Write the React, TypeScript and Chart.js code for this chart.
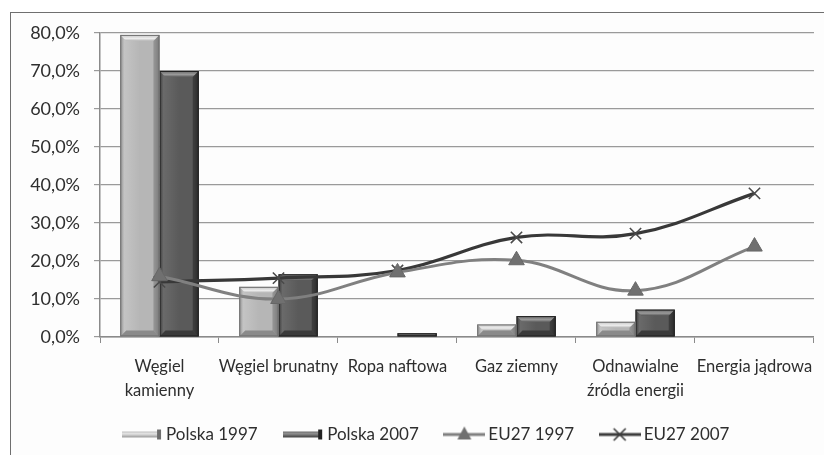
import React, { useEffect, useRef } from "react";
import { Chart, registerables } from "chart.js";

Chart.register(...registerables);

const categories: (string | string[])[] = [
  ["Węgiel", "kamienny"],
  "Węgiel brunatny",
  "Ropa naftowa",
  "Gaz ziemny",
  ["Odnawialne", "źródla energii"],
  "Energia jądrowa",
];
const polska1997 = [79.5, 13.2, 0, 3.3, 4.0, 0];
const polska2007 = [70.0, 16.5, 1.0, 5.5, 7.2, 0];
const eu1997 = [16.0, 10.0, 17.0, 20.2, 12.2, 23.8];
const eu2007 = [14.5, 15.5, 17.5, 26.2, 27.2, 37.8];
const seriesNames = ["Polska 1997", "Polska 2007", "EU27 1997", "EU27 2007"];
const yMax = 80;
const yStep = 10;

const FONT = "Lato";
const TEXT = "#2e2e2e";

type Pal = { edgeL: string; light: string; mid: string; edgeR: string; hi: string; lo: string; border: string };
const palLight: Pal = { edgeL: "#8c8c8c", light: "#c4c4c4", mid: "#b6b6b6", edgeR: "#7a7a7a", hi: "#ececec", lo: "#8a8a8a", border: "#6e6e6e" };
const palDark: Pal = { edgeL: "#3a3a3a", light: "#6a6a6a", mid: "#5a5a5a", edgeR: "#2a2a2a", hi: "#9a9a9a", lo: "#3a3a3a", border: "#222222" };

function drawBar3D(ctx: CanvasRenderingContext2D, left: number, right: number, top: number, bottom: number, pal: Pal) {
  const w = right - left;
  const h = bottom - top;
  if (h < 0.5 || w <= 0) return;
  ctx.save();
  const g = ctx.createLinearGradient(left, 0, right, 0);
  g.addColorStop(0, pal.edgeL);
  g.addColorStop(0.1, pal.light);
  g.addColorStop(0.5, pal.mid);
  g.addColorStop(0.88, pal.mid);
  g.addColorStop(1, pal.edgeR);
  ctx.fillStyle = g;
  ctx.fillRect(left, top, w, h);
  const b = Math.min(6, h / 2);
  ctx.beginPath();
  ctx.moveTo(left, top);
  ctx.lineTo(right, top);
  ctx.lineTo(right - b, top + b);
  ctx.lineTo(left + b, top + b);
  ctx.closePath();
  const tg = ctx.createLinearGradient(0, top, 0, top + b);
  tg.addColorStop(0, pal.light);
  tg.addColorStop(0.6, pal.hi);
  tg.addColorStop(1, pal.mid);
  ctx.fillStyle = tg;
  ctx.fill();
  ctx.beginPath();
  ctx.moveTo(left, bottom);
  ctx.lineTo(right, bottom);
  ctx.lineTo(right - b, bottom - b);
  ctx.lineTo(left + b, bottom - b);
  ctx.closePath();
  ctx.fillStyle = pal.lo;
  ctx.fill();
  ctx.beginPath();
  ctx.moveTo(right, top);
  ctx.lineTo(right, bottom);
  ctx.lineTo(right - b, bottom - b);
  ctx.lineTo(right - b, top + b);
  ctx.closePath();
  ctx.fillStyle = pal.edgeR;
  ctx.globalAlpha = 0.6;
  ctx.fill();
  ctx.globalAlpha = 1;
  ctx.strokeStyle = pal.border;
  ctx.lineWidth = 1;
  ctx.strokeRect(left + 0.5, top + 0.5, w - 1, h - 1);
  ctx.restore();
}

const bar3DPlugin = {
  id: "bar3d",
  afterLayout(chart: any) {
    const lg = chart.legend;
    if (lg) {
      lg.left += 14;
      lg.right += 14;
      lg.top -= 5;
      lg.bottom -= 5;
    }
  },
  afterDatasetDraw(chart: any, args: any) {
    const meta = args.meta;
    if (meta.type !== "bar") return;
    const pal = args.index === 0 ? palLight : palDark;
    const ctx = chart.ctx;
    meta.data.forEach((el: any) => {
      const left = el.x - el.width / 2;
      const right = el.x + el.width / 2;
      const top = Math.min(el.y, el.base);
      const bottom = Math.max(el.y, el.base);
      drawBar3D(ctx, left, right, top, bottom, pal);
    });
  },
};

function makeBarIcon(pal: Pal) {
  const c = document.createElement("canvas");
  c.width = 40;
  c.height = 12;
  const ctx = c.getContext("2d")!;
  const g = ctx.createLinearGradient(0, 2, 0, 10);
  g.addColorStop(0, pal.edgeL);
  g.addColorStop(0.35, pal.hi);
  g.addColorStop(0.7, pal.mid);
  g.addColorStop(1, pal.edgeR);
  ctx.fillStyle = g;
  ctx.fillRect(0, 3, 36, 6);
  ctx.fillStyle = pal.border;
  ctx.fillRect(35, 1, 4, 10);
  return c;
}

function makeLineIcon(color: string, marker: "tri" | "x") {
  const c = document.createElement("canvas");
  c.width = 42;
  c.height = 18;
  const ctx = c.getContext("2d")!;
  ctx.strokeStyle = color;
  ctx.lineWidth = 3;
  ctx.beginPath();
  ctx.moveTo(0, 9);
  ctx.lineTo(42, 9);
  ctx.stroke();
  if (marker === "tri") {
    ctx.fillStyle = "#707070";
    ctx.beginPath();
    ctx.moveTo(21, 1);
    ctx.lineTo(28, 14);
    ctx.lineTo(14, 14);
    ctx.closePath();
    ctx.fill();
  } else {
    ctx.lineWidth = 1.6;
    ctx.beginPath();
    ctx.moveTo(15, 3);
    ctx.lineTo(27, 15);
    ctx.moveTo(27, 3);
    ctx.lineTo(15, 15);
    ctx.stroke();
  }
  return c;
}

export default function App() {
  const ref = useRef<HTMLCanvasElement>(null);
  useEffect(() => {
    if (!ref.current) return;
    const icons = [
      makeBarIcon(palLight),
      makeBarIcon(palDark),
      makeLineIcon("#808080", "tri"),
      makeLineIcon("#3c3c3c", "x"),
    ];
    const chart = new Chart(ref.current, {
      type: "bar",
      data: {
        labels: categories as any,
        datasets: [
          { type: "bar", label: seriesNames[0], data: polska1997, backgroundColor: "rgba(0,0,0,0)", borderWidth: 0, order: 1 },
          { type: "bar", label: seriesNames[1], data: polska2007, backgroundColor: "rgba(0,0,0,0)", borderWidth: 0, order: 1 },
          {
            type: "line", label: seriesNames[2], data: eu1997, borderColor: "#808080", borderWidth: 3,
            tension: 0.4, pointStyle: "triangle", pointRadius: 9, pointBackgroundColor: "#707070",
            pointBorderColor: "#666666", pointBorderWidth: 1, order: 0,
          },
          {
            type: "line", label: seriesNames[3], data: eu2007, borderColor: "#383838", borderWidth: 3.2,
            tension: 0.4, pointStyle: "crossRot", pointRadius: 8, pointBorderColor: "#4a4a4a",
            pointBorderWidth: 1.6, order: 0,
          },
        ] as any,
      },
      options: {
        responsive: false,
        animation: false,
        layout: { padding: { top: 20, right: 7, left: 0, bottom: -3 } },
        datasets: { bar: { categoryPercentage: 0.66, barPercentage: 1.0 } },
        plugins: {
          tooltip: { enabled: false },
          legend: {
            position: "bottom",
            labels: {
              usePointStyle: true,
              pointStyleWidth: 31,
              padding: 30,
              color: TEXT,
              font: { family: FONT, size: 17 },
              generateLabels: (ch: any) =>
                ch.data.datasets.map((d: any, i: number) => ({
                  text: d.label,
                  pointStyle: icons[i],
                  fillStyle: "#000",
                  strokeStyle: "#000",
                  lineWidth: 0,
                  fontColor: TEXT,
                  hidden: false,
                  datasetIndex: i,
                })),
            },
          },
        },
        scales: {
          x: {
            grid: { display: true, drawOnChartArea: false, drawTicks: true, tickLength: 6, color: "#8a8a8a", offset: true },
            border: { color: "#8a8a8a", width: 1.5 },
            ticks: { color: TEXT, font: { family: FONT, size: 16.5, lineHeight: 1.5 }, padding: 11, maxRotation: 0, autoSkip: false },
            afterFit: (s: any) => { s.height = 64; },
          },
          y: {
            min: 0,
            max: yMax,
            grid: { color: "#9a9a9a", lineWidth: 1.2, tickLength: 6, drawTicks: true },
            border: { color: "#8a8a8a", width: 1.5 },
            ticks: {
              stepSize: yStep,
              color: TEXT,
              font: { family: FONT, size: 18 },
              padding: 14,
              callback: (v: any) => Number(v).toFixed(1).replace(".", ",") + "%",
            },
            afterFit: (s: any) => { s.width = 89; s.paddingTop = 0; },
          },
        },
      },
      plugins: [bar3DPlugin],
    });
    return () => chart.destroy();
  }, []);

  return (
    <div style={{ position: "absolute", left: 0, top: 0, width: 824, height: 455, overflow: "hidden", background: "#ffffff" }}>
      <div style={{ position: "absolute", left: 10, top: 12, width: 840, height: 470, border: "1px solid #6f6f6f", background: "#fdfdfd" }}>
        <canvas ref={ref} width={813} height={442} style={{ position: "absolute", left: 0, top: 0, width: 813, height: 442 }} />
      </div>
    </div>
  );
}
